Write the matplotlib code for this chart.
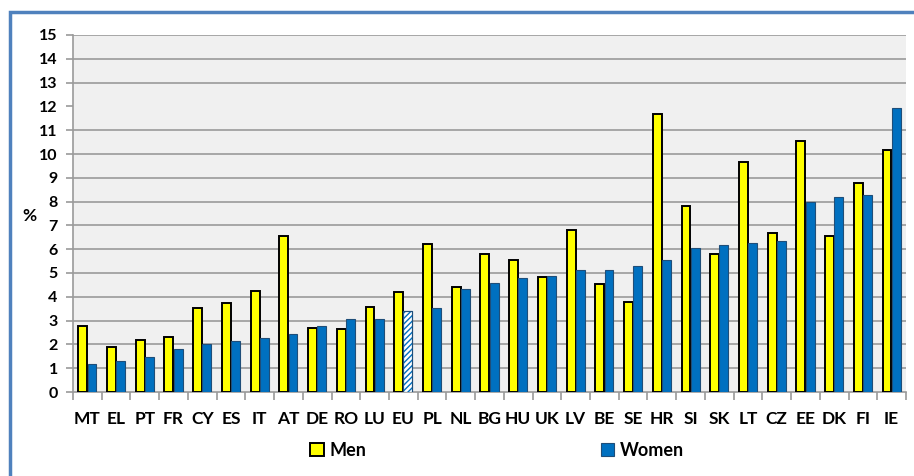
import matplotlib
matplotlib.use("Agg")
import matplotlib.pyplot as plt
from matplotlib.patches import Rectangle, Patch
import numpy as np

countries = ["MT", "EL", "PT", "FR", "CY", "ES", "IT", "AT", "DE", "RO", "LU", "EU", "PL", "NL",
             "BG", "HU", "UK", "LV", "BE", "SE", "HR", "SI", "SK", "LT", "CZ", "EE", "DK", "FI", "IE"]
men = [2.79, 1.89, 2.19, 2.33, 3.54, 3.73, 4.23, 6.55, 2.70, 2.66, 3.58, 4.19, 6.23, 4.43,
       5.78, 5.56, 4.85, 6.80, 4.53, 3.77, 11.66, 7.82, 5.79, 9.67, 6.67, 10.54, 6.57, 8.79, 10.17]
women = [1.18, 1.32, 1.46, 1.80, 2.02, 2.16, 2.26, 2.44, 2.77, 3.05, 3.05, 3.41, 3.55, 4.32,
         4.60, 4.78, 4.86, 5.11, 5.11, 5.31, 5.53, 6.06, 6.18, 6.28, 6.36, 7.99, 8.21, 8.27, 11.92]
yticks = list(range(0, 16))
series_labels = ["Men", "Women"]

plt.rcParams['font.family'] = ['Lato', 'DejaVu Sans']

fig = plt.figure(figsize=(9.14, 4.76), dpi=100)
fig.patch.set_facecolor("white")
ax = fig.add_axes([73/914, 1-392/476, (906-73)/914, (392-35)/476])
ax.set_facecolor("#f0f0f0")

# blue frame
fig.patches.append(Rectangle((9.5/914, -0.2), 1.2, 1-11.5/476+0.2, transform=fig.transFigure,
                             fill=False, edgecolor="#4f81bd", linewidth=2.5, zorder=0))

x = np.arange(len(countries))
w = 0.31
ax.bar(x - 0.16, men, w, color="#ffff00", edgecolor="black", linewidth=1.4, zorder=3)
bw = ax.bar(x + 0.16, women, w, color="#0070c0", edgecolor="#1f4e79", linewidth=0.8, zorder=3)
eu = countries.index("EU")
bw[eu].set_facecolor("white")
bw[eu].set_hatch("//////")
bw[eu].set_edgecolor("#0070c0")
ax.bar(x[eu] + 0.16, women[eu], w, fill=False, edgecolor="#1f4e79", linewidth=0.8, zorder=4)

ax.set_xlim(-0.5, len(countries) - 0.5)
ax.set_ylim(0, 15)
ax.set_yticks(yticks)
ax.set_yticklabels([str(t) for t in yticks], fontsize=11.5, fontweight="bold")
for t in yticks:
    if t != 12 and t != 0:
        ax.axhline(t, color="#9a9a9a", linewidth=1.2, zorder=1)
ax.tick_params(axis="y", length=5, color="#9a9a9a", width=1.2, pad=6)

ax.set_xticks(x)
ax.set_xticklabels(countries, fontsize=12.5, fontweight="bold")
ax.tick_params(axis="x", length=0, pad=14)
ax.set_xticks(np.arange(-0.5, len(countries), 1), minor=True)
ax.tick_params(axis="x", which="minor", length=6, color="#9a9a9a", width=1.2)

for s in ["top", "right"]:
    ax.spines[s].set_visible(False)
for s in ["left", "bottom"]:
    ax.spines[s].set_color("#9a9a9a")
    ax.spines[s].set_linewidth(1.2)

fig.text(29/914, 1-216/476, "%", fontsize=12.5, fontweight="bold", ha="center", va="center")

handles = [Patch(facecolor="#ffff00", edgecolor="black", linewidth=1.4),
           Patch(facecolor="#0070c0", edgecolor="#1f4e79", linewidth=0.8)]
fig.legend(handles, series_labels, loc="center", bbox_to_anchor=(497/914, 1-450/476), ncol=2,
           frameon=False, handlelength=0.75, handleheight=0.75, handletextpad=0.3,
           columnspacing=13.0, prop={"size": 13, "weight": "bold"})

fig.savefig("out.png", dpi=100)
